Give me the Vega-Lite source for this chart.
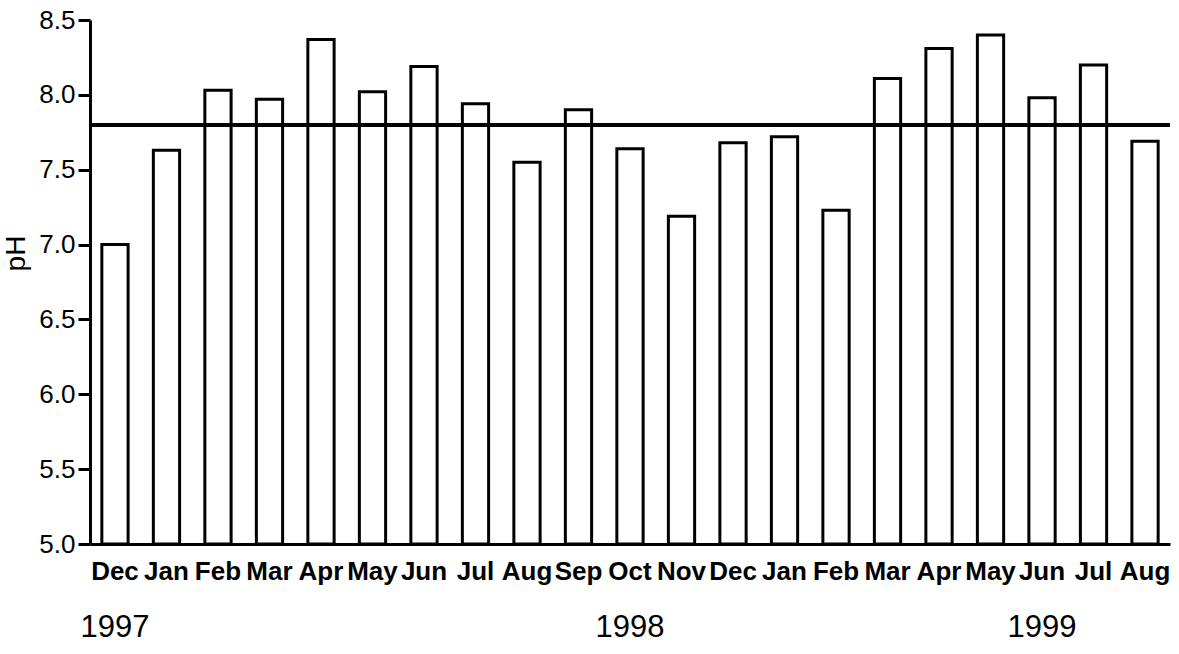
{
  "$schema": "https://vega.github.io/schema/vega-lite/v6.json",
  "width": 1080,
  "height": 524,
  "autosize": {"type": "none"},
  "padding": {"left": 90, "top": 20, "right": 9, "bottom": 110},
  "background": "white",
  "config": {
    "view": {"stroke": null},
    "font": "Liberation Sans",
    "axis": {"grid": false, "domainColor": "black", "domainWidth": 3, "tickColor": "black", "tickWidth": 3, "labelColor": "black", "titleColor": "black"}
  },
  "data": {
    "values": [
      {"ym": "1997-12", "pH": 7.00},
      {"ym": "1998-01", "pH": 7.63},
      {"ym": "1998-02", "pH": 8.03},
      {"ym": "1998-03", "pH": 7.97},
      {"ym": "1998-04", "pH": 8.37},
      {"ym": "1998-05", "pH": 8.02},
      {"ym": "1998-06", "pH": 8.19},
      {"ym": "1998-07", "pH": 7.94},
      {"ym": "1998-08", "pH": 7.55},
      {"ym": "1998-09", "pH": 7.90},
      {"ym": "1998-10", "pH": 7.64},
      {"ym": "1998-11", "pH": 7.19},
      {"ym": "1998-12", "pH": 7.68},
      {"ym": "1999-01", "pH": 7.72},
      {"ym": "1999-02", "pH": 7.23},
      {"ym": "1999-03", "pH": 8.11},
      {"ym": "1999-04", "pH": 8.31},
      {"ym": "1999-05", "pH": 8.40},
      {"ym": "1999-06", "pH": 7.98},
      {"ym": "1999-07", "pH": 8.20},
      {"ym": "1999-08", "pH": 7.69}
    ]
  },
  "layer": [
    {
      "mark": {"type": "bar", "fill": "white", "stroke": "black", "strokeWidth": 3},
      "encoding": {
        "x": {
          "field": "ym",
          "type": "ordinal",
          "sort": null,
          "scale": {"paddingInner": 0.49, "paddingOuter": 0.23},
          "axis": {
            "title": null,
            "ticks": false,
            "labelAngle": 0,
            "labelFontWeight": "bold",
            "labelFontSize": 26,
            "labelPadding": 14,
            "labelOverlap": false,
            "labelBound": false,
            "labelExpr": "['Jan','Feb','Mar','Apr','May','Jun','Jul','Aug','Sep','Oct','Nov','Dec'][toNumber(substring(datum.value,5,7))-1]"
          }
        },
        "y": {
          "field": "pH",
          "type": "quantitative",
          "scale": {"domain": [5, 8.5], "zero": false, "nice": false},
          "axis": {
            "title": "pH",
            "values": [5, 5.5, 6, 6.5, 7, 7.5, 8, 8.5],
            "format": ".1f",
            "labelFontSize": 26,
            "tickSize": 12,
            "labelPadding": 3,
            "titleFontSize": 28,
            "titleFontWeight": "normal",
            "titleAngle": -90,
            "titleX": -60,
            "titleY": 233,
            "titleAlign": "center",
            "titleBaseline": "bottom"
          }
        },
        "y2": {"datum": 5}
      }
    },
    {
      "mark": {"type": "rule", "stroke": "black", "strokeWidth": 3},
      "encoding": {"y": {"datum": 7.8}}
    },
    {
      "data": {
        "values": [
          {"ym": "1997-12", "year": "1997"},
          {"ym": "1998-10", "year": "1998"},
          {"ym": "1999-06", "year": "1999"}
        ]
      },
      "mark": {"type": "text", "fontSize": 31, "baseline": "middle", "align": "center", "color": "black"},
      "encoding": {
        "x": {"field": "ym", "type": "ordinal", "sort": null},
        "y": {"datum": 4.44},
        "text": {"field": "year"}
      }
    }
  ]
}
